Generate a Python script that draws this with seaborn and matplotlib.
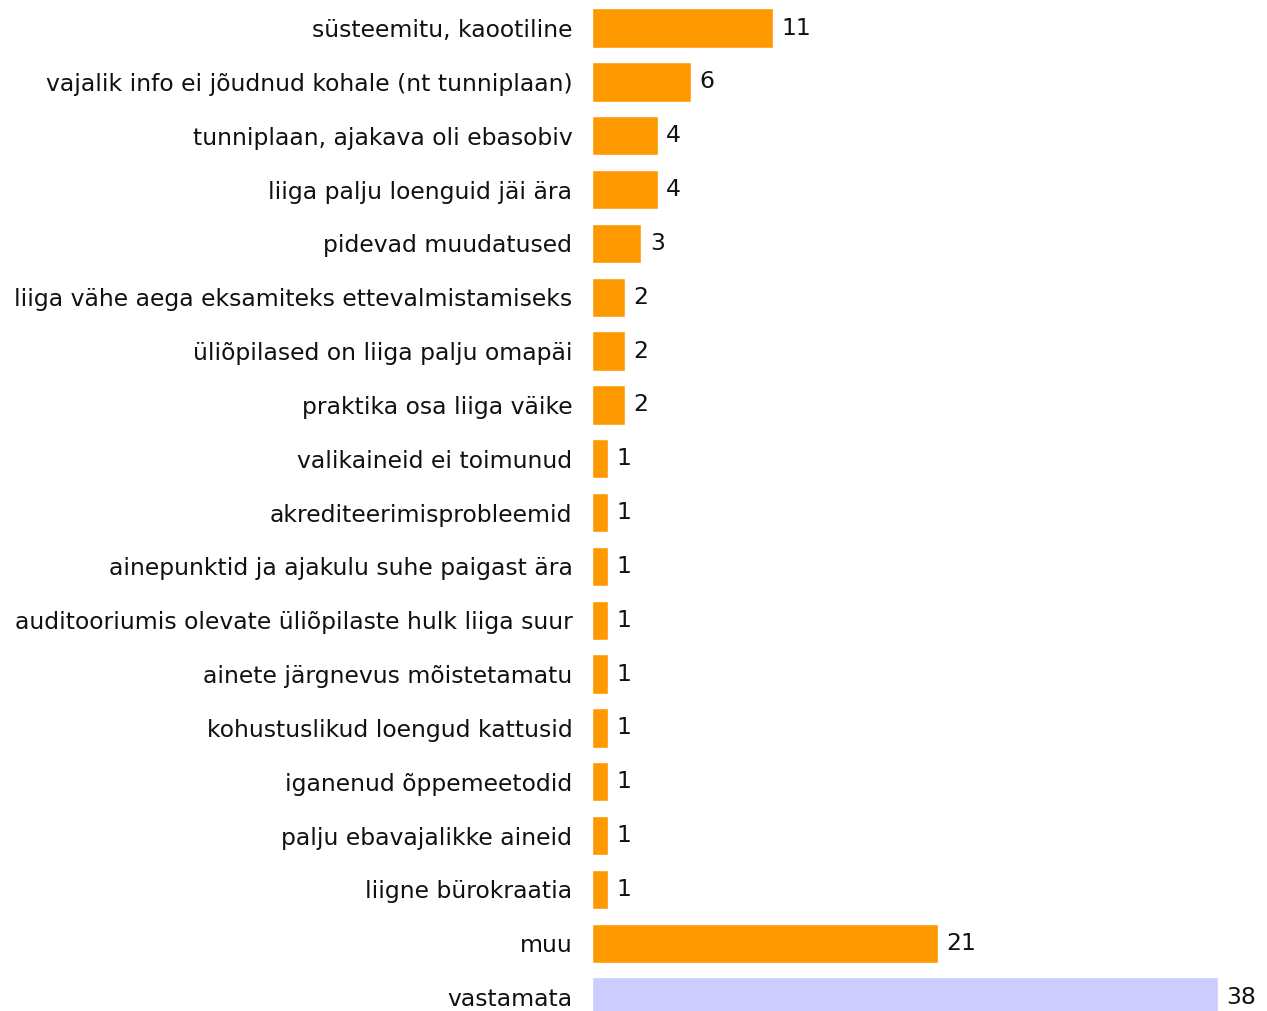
import matplotlib
matplotlib.use("Agg")
import matplotlib.pyplot as plt
import seaborn as sns
import pandas as pd

categories = [
    "süsteemitu, kaootiline",
    "vajalik info ei jõudnud kohale (nt tunniplaan)",
    "tunniplaan, ajakava oli ebasobiv",
    "liiga palju loenguid jäi ära",
    "pidevad muudatused",
    "liiga vähe aega eksamiteks ettevalmistamiseks",
    "üliõpilased on liiga palju omapäi",
    "praktika osa liiga väike",
    "valikaineid ei toimunud",
    "akrediteerimisprobleemid",
    "ainepunktid ja ajakulu suhe paigast ära",
    "auditooriumis olevate üliõpilaste hulk liiga suur",
    "ainete järgnevus mõistetamatu",
    "kohustuslikud loengud kattusid",
    "iganenud õppemeetodid",
    "palju ebavajalikke aineid",
    "liigne bürokraatia",
    "muu",
    "vastamata",
]
values = [11, 6, 4, 4, 3, 2, 2, 2, 1, 1, 1, 1, 1, 1, 1, 1, 1, 21, 38]
groups = ["answered"] * 18 + ["unanswered"]
colors = {"answered": "#FF9900", "unanswered": "#CCCCFF"}

df = pd.DataFrame({"category": categories, "value": values, "group": groups})

sns.set_theme(style="white")
plt.rcParams["font.family"] = ["DejaVu Sans"]

FS = 16.9

fig = plt.figure(figsize=(12.67, 10.11), dpi=100)
ax = fig.add_axes([0.4672, -0.0129, 0.52, 1.0118])

sns.barplot(data=df, y="category", x="value", hue="group", palette=colors,
            dodge=False, legend=False, width=0.73, ax=ax, orient="h",
            saturation=1)

for cont in ax.containers:
    ax.bar_label(cont, padding=6, fontsize=FS, color="#111111")

ax.set_xlim(0, 40)
ax.set_ylim(len(categories) - 0.5, -0.5)
ax.set_xlabel("")
ax.set_ylabel("")
ax.set_xticks([])
ax.tick_params(axis="y", length=0, pad=14, labelsize=FS, labelcolor="#111111")
for s in ax.spines.values():
    s.set_visible(False)

fig.savefig("out.png", dpi=100)
